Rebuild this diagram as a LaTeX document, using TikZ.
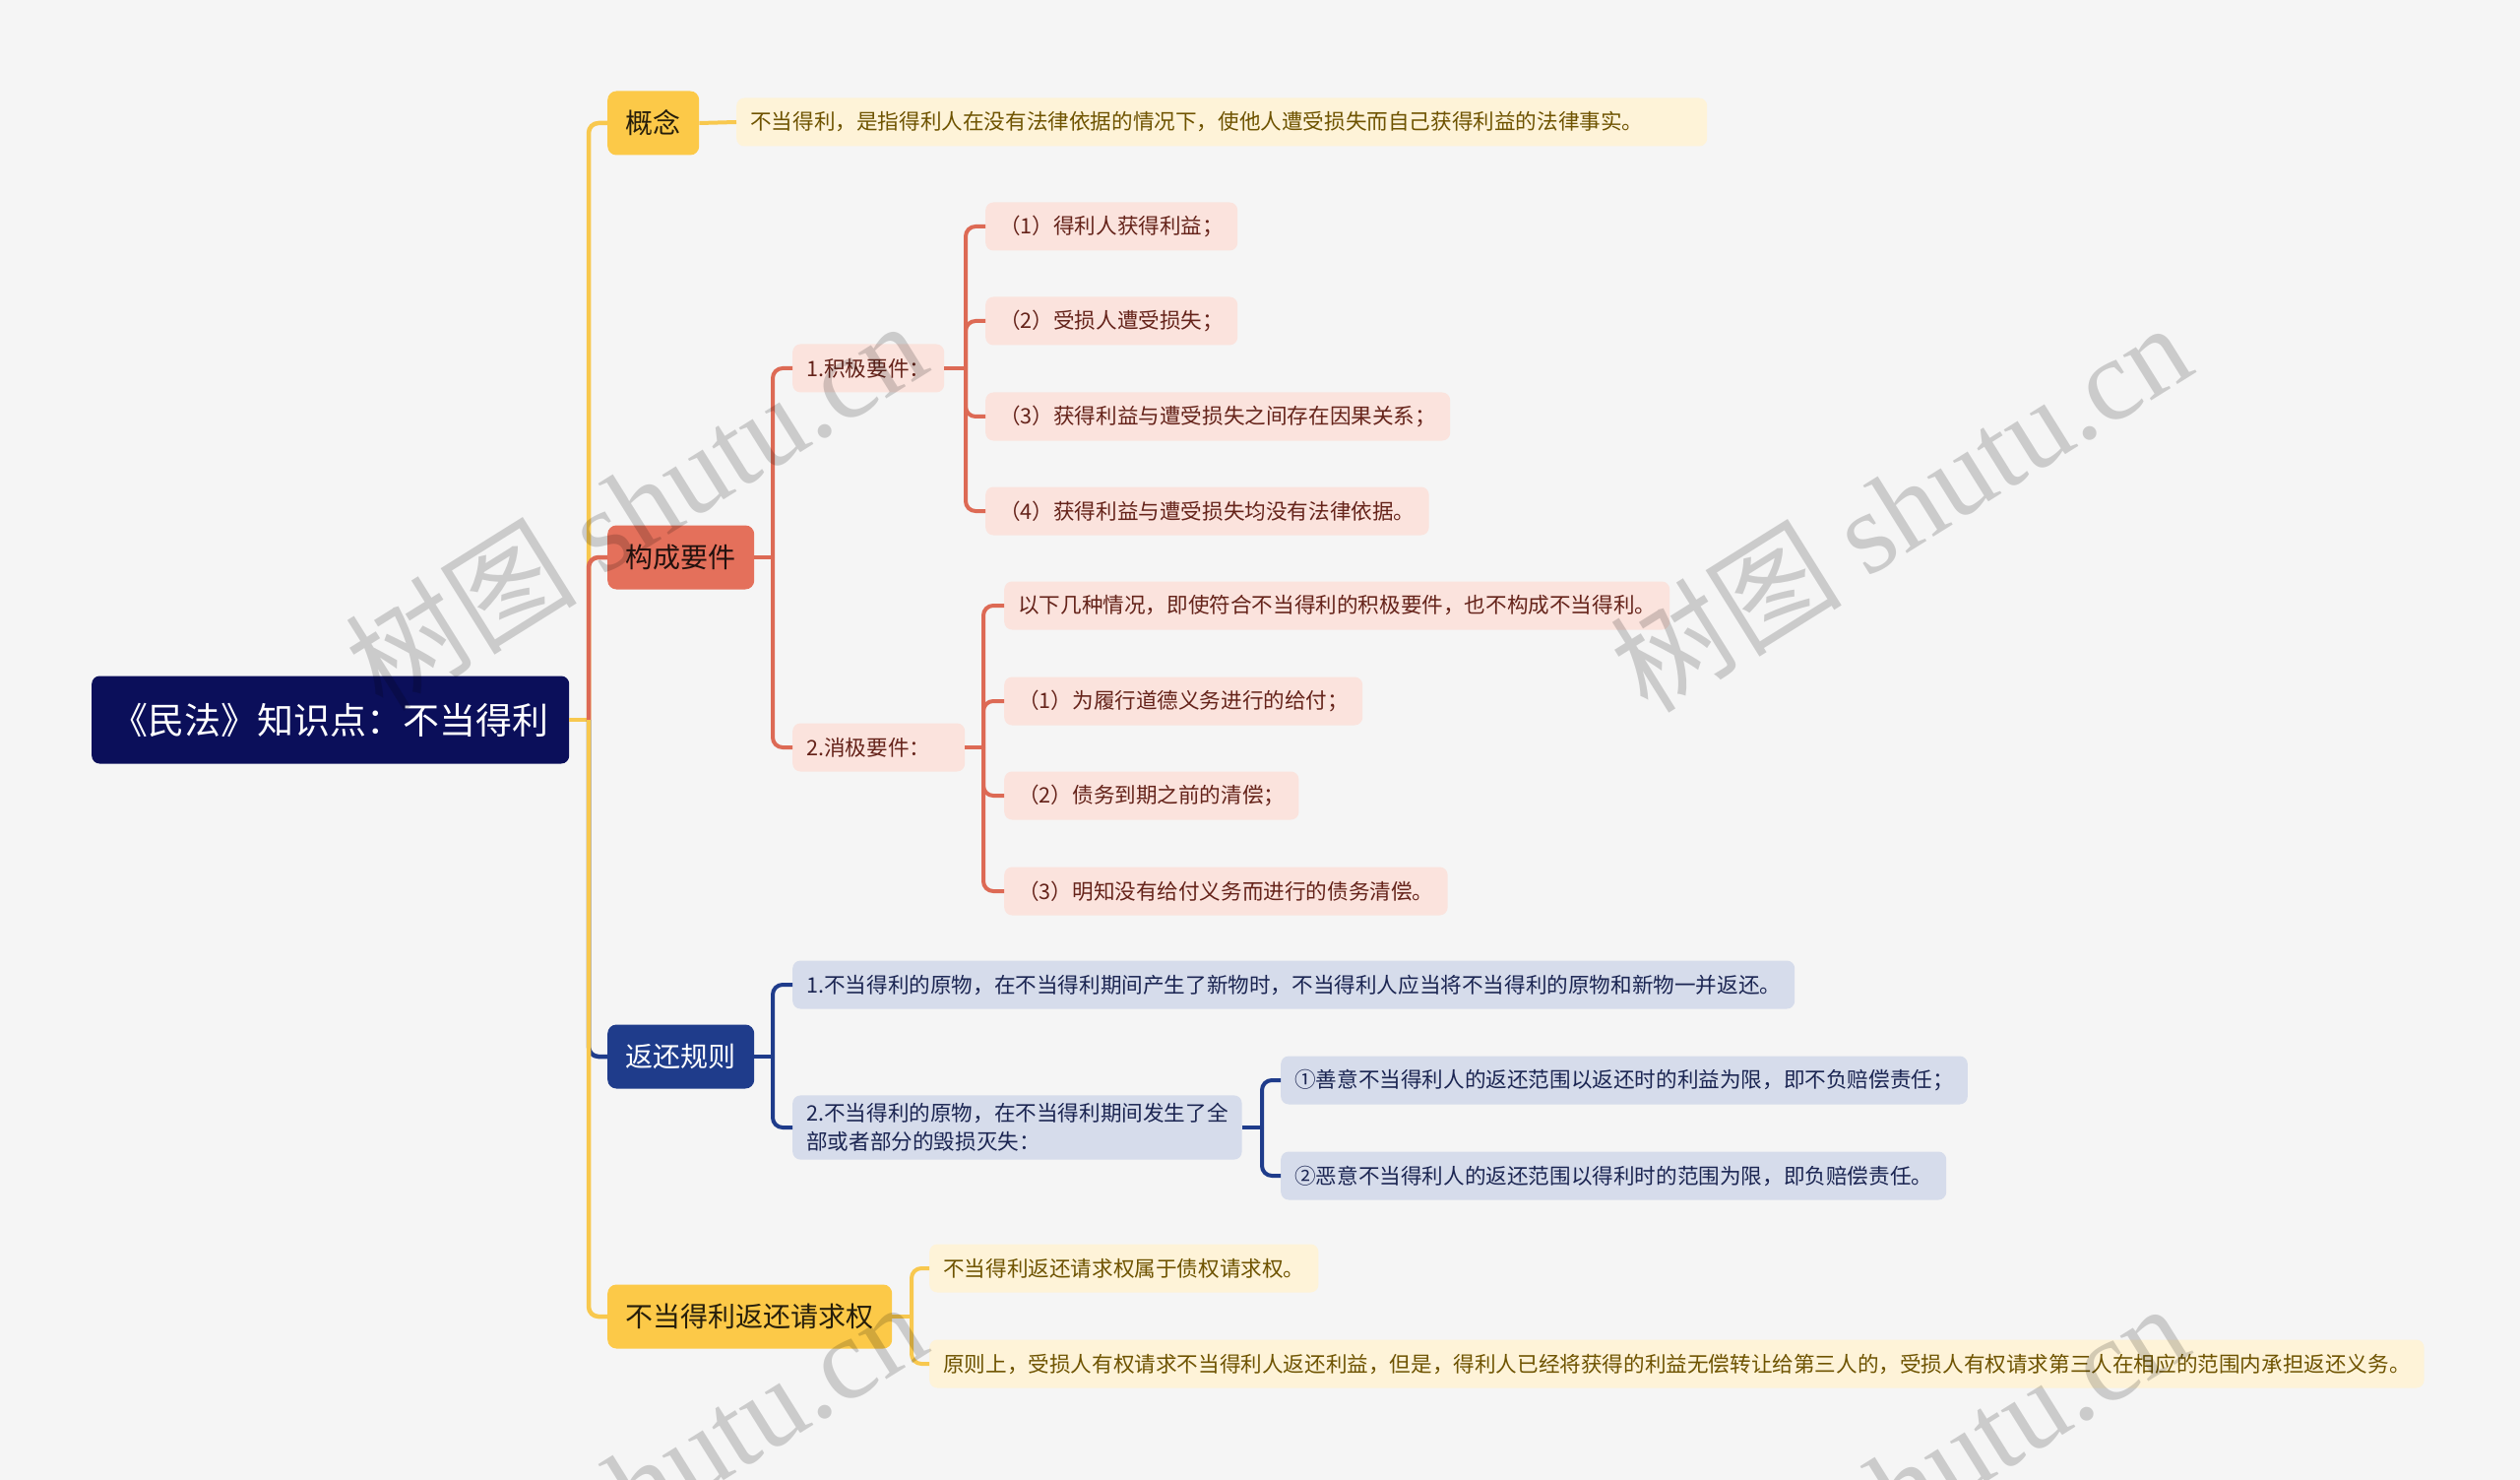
\documentclass[tikz,border=0pt]{standalone}
\usepackage{fontspec}
\setmainfont{Noto Sans CJK SC}
\newfontfamily\wmlatin{Liberation Serif}
\definecolor{bgc}{HTML}{F5F5F5}
\definecolor{rootc}{HTML}{0B0F5A}
\definecolor{yel}{HTML}{FCC948}
\definecolor{yelline}{HTML}{F8C84E}
\definecolor{yelleaf}{HTML}{FEF3D8}
\definecolor{yeltext}{HTML}{6E5300}
\definecolor{redc}{HTML}{E4705B}
\definecolor{redline}{HTML}{DD6A55}
\definecolor{redleaf}{HTML}{FBE3DD}
\definecolor{redtext}{HTML}{65231A}
\definecolor{bluec}{HTML}{1F3C8B}
\definecolor{blueleaf}{HTML}{D6DCEB}
\definecolor{bluetext}{HTML}{1B2552}
\tikzset{
  rootnode/.style={fill=rootc, text=white, rounded corners=8, anchor=west,
    minimum height=89, minimum width=485, inner xsep=20,
    font=\fontsize{37}{44}\selectfont},
  branch/.style={rounded corners=9, anchor=west, minimum height=65, inner xsep=18.5,
    inner ysep=0, font=\fontsize{28}{34}\selectfont},
  leaf/.style={rounded corners=8, anchor=west, minimum height=49, inner xsep=14,
    inner ysep=6, font=\fontsize{21.6}{29}\selectfont, align=left},
  yb/.style={branch, fill=yel, text=black!85!yel},
  rb/.style={branch, fill=redc, text=black!85!redc},
  bb/.style={branch, fill=bluec, text=white},
  yl/.style={leaf, fill=yelleaf, text=yeltext},
  rl/.style={leaf, fill=redleaf, text=redtext},
  bl/.style={leaf, fill=blueleaf, text=bluetext},
  lk/.style={line width=4, rounded corners=10},
  wm/.style={rotate=32, text=black, opacity=0.17, font=\fontsize{118}{126}\selectfont},
}
\begin{document}
\begin{tikzpicture}[x=1pt,y=-1pt]
\useasboundingbox (0,0) rectangle (2560,1503);
\fill[bgc] (0,0) rectangle (2560,1503);

% vertical connector positions
\coordinate (vT) at (598,0);
\coordinate (vK) at (785,0);
\coordinate (vK1) at (981,0);
\coordinate (vK2) at (999,0);
\coordinate (vF) at (785,0);
\coordinate (vF2) at (1282,0);
\coordinate (vQ) at (926,0);

% nodes
\node[rootnode] (root) at (93,731) {《民法》知识点：不当得利};
\node[yb] (gn) at (617,125) {概念};
\node[rb] (gc) at (617,566) {构成要件};
\node[bb] (fh) at (617,1073) {返还规则};
\node[yb] (qq) at (617,1337) {不当得利返还请求权};

\node[yl, text width=958] (gn1) at (748,124) {不当得利，是指得利人在没有法律依据的情况下，使他人遭受损失而自己获得利益的法律事实。};

\node[rl] (k1) at (805,374) {1.积极要件：};
\node[rl, text width=147] (k2) at (805,759) {2.消极要件：};
\node[rl] (k11) at (1001,230) {（1）得利人获得利益；};
\node[rl] (k12) at (1001,326) {（2）受损人遭受损失；};
\node[rl] (k13) at (1001,423) {（3）获得利益与遭受损失之间存在因果关系；};
\node[rl] (k14) at (1001,519) {（4）获得利益与遭受损失均没有法律依据。};
\node[rl] (k21) at (1020,615) {以下几种情况，即使符合不当得利的积极要件，也不构成不当得利。};
\node[rl] (k22) at (1020,712) {（1）为履行道德义务进行的给付；};
\node[rl] (k23) at (1020,808) {（2）债务到期之前的清偿；};
\node[rl] (k24) at (1020,905) {（3）明知没有给付义务而进行的债务清偿。};

\node[bl] (f1) at (805,1000) {1.不当得利的原物，在不当得利期间产生了新物时，不当得利人应当将不当得利的原物和新物一并返还。};
\node[bl, inner ysep=8] (f2) at (805,1145) {2.不当得利的原物，在不当得利期间发生了全\\部或者部分的毁损灭失：};
\node[bl] (f21) at (1301,1097) {①善意不当得利人的返还范围以返还时的利益为限，即不负赔偿责任；};
\node[bl] (f22) at (1301,1194) {②恶意不当得利人的返还范围以得利时的范围为限，即负赔偿责任。};

\node[yl] (q1) at (944,1288) {不当得利返还请求权属于债权请求权。};
\node[yl] (q2) at (944,1385) {原则上，受损人有权请求不当得利人返还利益，但是，得利人已经将获得的利益无偿转让给第三人的，受损人有权请求第三人在相应的范围内承担返还义务。};

% trunk connectors
\draw[yelline, line width=4.5] (root.east) -- (root.east -| vT);
\draw[yelline, lk, line width=4.5] (root.east -| vT) |- (gn.west);
\draw[redline, lk, line width=4.5] (root.east -| vT) |- (gc.west);
\draw[bluec, lk, line width=4.5] (root.east -| vT) |- (fh.west);
\draw[yelline, lk, line width=4.5] (root.east -| vT) |- (qq.west);

% 概念
\draw[yelline, line width=4] (gn.east) -- (gn1.west);

% 构成要件
\draw[redline, line width=4] (gc.east) -- (gc.east -| vK);
\foreach \c in {k1,k2} \draw[redline, lk] (gc.east -| vK) |- (\c.west);
\draw[redline, line width=4] (k1.east) -- (k1.east -| vK1);
\foreach \c in {k11,k12,k13,k14} \draw[redline, lk] (k1.east -| vK1) |- (\c.west);
\draw[redline, line width=4] (k2.east) -- (k2.east -| vK2);
\foreach \c in {k21,k22,k23,k24} \draw[redline, lk] (k2.east -| vK2) |- (\c.west);

% 返还规则
\draw[bluec, line width=4] (fh.east) -- (fh.east -| vF);
\foreach \c in {f1,f2} \draw[bluec, lk] (fh.east -| vF) |- (\c.west);
\draw[bluec, line width=4] (f2.east) -- (f2.east -| vF2);
\foreach \c in {f21,f22} \draw[bluec, lk] (f2.east -| vF2) |- (\c.west);

% 请求权
\draw[yelline, line width=4] (qq.east) -- (qq.east -| vQ);
\foreach \c in {q1,q2} \draw[yelline, lk] (qq.east -| vQ) |- (\c.west);

% watermarks
\node[wm] (wm1) at (645,512) {树图 {\wmlatin shutu.cn}};
\node[wm] (wm2) at (1930,514) {树图 {\wmlatin shutu.cn}};
\node[wm] (wm3) at (645,1508) {树图 {\wmlatin shutu.cn}};
\node[wm] (wm4) at (1927,1510) {树图 {\wmlatin shutu.cn}};
\end{tikzpicture}
\end{document}
